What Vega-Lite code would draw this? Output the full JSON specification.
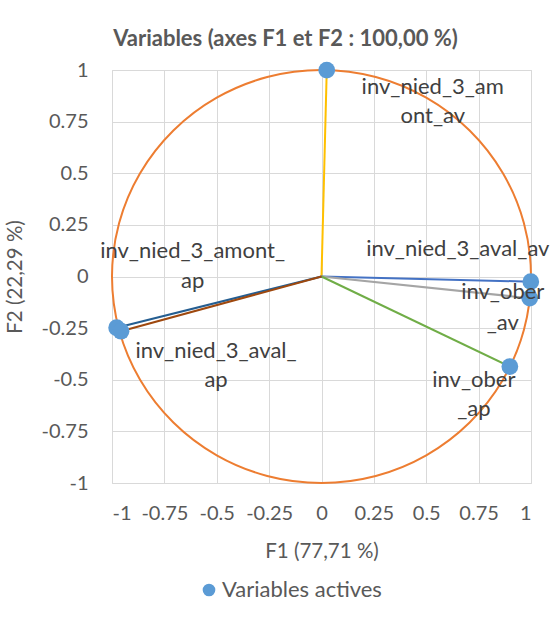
{
  "$schema": "https://vega.github.io/schema/vega-lite/v6.json",
  "autosize": "none",
  "padding": {"left": 112, "top": 70, "right": 29, "bottom": 140},
  "width": 419,
  "height": 413,
  "background": "white",
  "config": {
    "font": "Lato",
    "view": {"stroke": "#D9D9D9", "strokeWidth": 1},
    "axis": {
      "domain": false, "ticks": false, "grid": true, "gridColor": "#D9D9D9", "gridWidth": 1,
      "labelFont": "Lato", "labelFontSize": 20, "labelColor": "#595959",
      "titleFont": "Lato", "titleFontSize": 20.5, "titleColor": "#595959", "titleFontWeight": "normal"
    },
    "legend": {"labelFont": "Lato", "labelFontSize": 22, "labelColor": "#595959"}
  },
  "title": {
    "text": "Variables (axes F1 et F2 : 100,00 %)",
    "font": "Lato", "fontSize": 22, "fontWeight": "bold", "color": "#595959",
    "anchor": "middle", "dx": -36, "offset": 9
  },
  "datasets": {
    "vars": [
      {"var": "inv_nied_3_amont_av", "x": 0.025, "y": 0.999},
      {"var": "inv_nied_3_aval_av", "x": 0.999, "y": -0.025},
      {"var": "inv_ober_av", "x": 0.994, "y": -0.105},
      {"var": "inv_ober_ap", "x": 0.899, "y": -0.436},
      {"var": "inv_nied_3_amont_ap", "x": -0.978, "y": -0.248},
      {"var": "inv_nied_3_aval_ap", "x": -0.957, "y": -0.265}
    ],
    "circle": [
      {"i": 0, "x": 1, "y": 0},
      {"i": 1, "x": 0.966, "y": 0.259},
      {"i": 2, "x": 0.866, "y": 0.5},
      {"i": 3, "x": 0.707, "y": 0.707},
      {"i": 4, "x": 0.5, "y": 0.866},
      {"i": 5, "x": 0.259, "y": 0.966},
      {"i": 6, "x": 0, "y": 1},
      {"i": 7, "x": -0.259, "y": 0.966},
      {"i": 8, "x": -0.5, "y": 0.866},
      {"i": 9, "x": -0.707, "y": 0.707},
      {"i": 10, "x": -0.866, "y": 0.5},
      {"i": 11, "x": -0.966, "y": 0.259},
      {"i": 12, "x": -1, "y": 0},
      {"i": 13, "x": -0.966, "y": -0.259},
      {"i": 14, "x": -0.866, "y": -0.5},
      {"i": 15, "x": -0.707, "y": -0.707},
      {"i": 16, "x": -0.5, "y": -0.866},
      {"i": 17, "x": -0.259, "y": -0.966},
      {"i": 18, "x": 0, "y": -1},
      {"i": 19, "x": 0.259, "y": -0.966},
      {"i": 20, "x": 0.5, "y": -0.866},
      {"i": 21, "x": 0.707, "y": -0.707},
      {"i": 22, "x": 0.866, "y": -0.5},
      {"i": 23, "x": 0.966, "y": -0.259}
    ]
  },
  "encoding": {
    "x": {
      "field": "x", "type": "quantitative",
      "scale": {"domain": [-1, 1], "nice": false, "zero": false},
      "axis": {"values": [-1, -0.75, -0.5, -0.25, 0, 0.25, 0.5, 0.75, 1], "labelExpr": "'' + datum.value", "labelPadding": 20, "titlePadding": 18, "title": "F1 (77,71 %)"}
    },
    "y": {
      "field": "y", "type": "quantitative",
      "scale": {"domain": [-1, 1], "nice": false, "zero": false},
      "axis": {"values": [-1, -0.75, -0.5, -0.25, 0, 0.25, 0.5, 0.75, 1], "labelExpr": "'' + datum.value", "labelPadding": 24, "titlePadding": 16, "title": "F2 (22,29 %)"}
    }
  },
  "layer": [
    {
      "data": {"name": "vars"},
      "mark": {"type": "rule", "strokeWidth": 2},
      "encoding": {
        "x2": {"datum": 0},
        "y2": {"datum": 0},
        "color": {
          "field": "var", "type": "nominal", "legend": null,
          "scale": {
            "domain": ["inv_nied_3_amont_av", "inv_nied_3_aval_av", "inv_ober_av", "inv_ober_ap", "inv_nied_3_amont_ap", "inv_nied_3_aval_ap"],
            "range": ["#FFC000", "#4472C4", "#A5A5A5", "#70AD47", "#255E91", "#9E480E"]
          }
        }
      }
    },
    {
      "data": {"name": "circle"},
      "mark": {"type": "line", "interpolate": "cardinal-closed", "color": "#ED7D31", "strokeWidth": 2},
      "encoding": {"order": {"field": "i", "type": "quantitative"}}
    },
    {
      "data": {"name": "vars"},
      "mark": {"type": "point", "filled": true, "size": 280, "opacity": 1},
      "encoding": {
        "color": {
          "datum": "Variables actives", "type": "nominal",
          "scale": {"range": ["#5B9BD5"]},
          "legend": {"title": null, "orient": "none", "legendX": 86, "legendY": 509, "symbolSize": 160, "labelOffset": 2}
        }
      }
    },
    {
      "data": {"name": "vars"},
      "transform": [{"filter": "datum.var == 'inv_nied_3_amont_av'"}],
      "mark": {"type": "text", "align": "center", "baseline": "top", "fontSize": 22, "color": "#404040", "lineHeight": 29, "dx": 106, "dy": 7, "text": ["inv_nied_3_am", "ont_av"]},
      "encoding": {}
    },
    {
      "data": {"name": "vars"},
      "transform": [{"filter": "datum.var == 'inv_nied_3_aval_av'"}],
      "mark": {"type": "text", "align": "center", "baseline": "top", "fontSize": 22, "color": "#404040", "lineHeight": 29, "dx": -73, "dy": -43, "text": "inv_nied_3_aval_av"},
      "encoding": {}
    },
    {
      "data": {"name": "vars"},
      "transform": [{"filter": "datum.var == 'inv_ober_av'"}],
      "mark": {"type": "text", "align": "center", "baseline": "top", "fontSize": 22, "color": "#404040", "lineHeight": 31, "dx": -27, "dy": -16, "text": ["inv_ober", "_av"]},
      "encoding": {}
    },
    {
      "data": {"name": "vars"},
      "transform": [{"filter": "datum.var == 'inv_ober_ap'"}],
      "mark": {"type": "text", "align": "center", "baseline": "top", "fontSize": 22, "color": "#404040", "lineHeight": 29, "dx": -36, "dy": 3, "text": ["inv_ober", "_ap"]},
      "encoding": {}
    },
    {
      "data": {"name": "vars"},
      "transform": [{"filter": "datum.var == 'inv_nied_3_amont_ap'"}],
      "mark": {"type": "text", "align": "center", "baseline": "top", "fontSize": 22, "color": "#404040", "lineHeight": 30, "dx": 76, "dy": -87, "text": ["inv_nied_3_amont_", "ap"]},
      "encoding": {}
    },
    {
      "data": {"name": "vars"},
      "transform": [{"filter": "datum.var == 'inv_nied_3_aval_ap'"}],
      "mark": {"type": "text", "align": "center", "baseline": "top", "fontSize": 22, "color": "#404040", "lineHeight": 29, "dx": 95, "dy": 10, "text": ["inv_nied_3_aval_", "ap"]},
      "encoding": {}
    }
  ],
  "resolve": {"scale": {"color": "independent"}}
}
